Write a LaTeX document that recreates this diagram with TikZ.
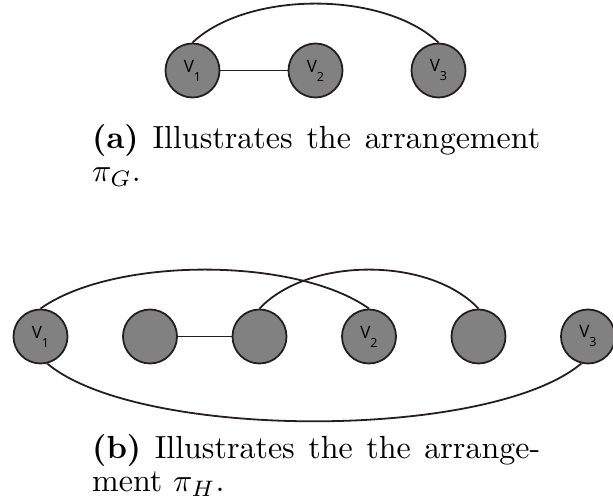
\documentclass[tikz,border=0pt]{standalone}
\usepackage{fontspec}
\newfontfamily\labfont{Open Sans}
\usepackage{graphicx}
\definecolor{nodegray}{RGB}{128,129,128}
\definecolor{ink}{RGB}{35,31,32}
\tikzset{
  vert/.style={circle, draw=ink, fill=nodegray, line width=1.8pt, minimum size=54pt, inner sep=0pt, font=\labfont\fontsize{17}{17}\selectfont},
  edge/.style={draw=ink, line width=1.8pt},
  capnode/.style={anchor=base west, inner sep=0pt}
}
\newcommand{\vlab}[1]{V\raisebox{-9pt}{\fontsize{12.5}{12.5}\selectfont #1}}
\begin{document}
\begin{tikzpicture}[x=1pt,y=1pt]
\useasboundingbox (0,0) rectangle (613,502);
% top graph
\node[vert] (t1) at (192.5,431.5) {\vlab{1}};
\node[vert] (t2) at (315.5,431.5) {\vlab{2}};
\node[vert] (t3) at (438.5,431.5) {\vlab{3}};
\draw[edge] (t1.east) -- (t2.west);
\draw[edge] (t1.north) .. controls +(55,52) and +(-55,52) .. (t3.north);
\node[capnode] (capa) at (92,353) {\scalebox{3.2}{\parbox[t]{140pt}{\fontsize{10}{10.3}\selectfont\textbf{(a)} Illustrates the arrangement\linebreak $\pi_G$.}}};
% bottom graph
\node[vert] (b1) at (40.5,165.5) {\vlab{1}};
\node[vert] (b2) at (150,165.5) {};
\node[vert] (b3) at (259.5,165.5) {};
\node[vert] (b4) at (369,165.5) {\vlab{2}};
\node[vert] (b5) at (478.5,165.5) {};
\node[vert] (b6) at (588,165.5) {\vlab{3}};
\draw[edge] (b2.east) -- (b3.west);
\draw[edge] (b1.north) .. controls +(73,52) and +(-73,52) .. (b4.north);
\draw[edge] (b3.north) .. controls +(49,52) and +(-49,52) .. (b5.north);
\draw[edge] (b1.-76) .. controls +(92,-77) and +(-92,-77) .. (b6.-104);
\node[capnode] (capb) at (92,43) {\scalebox{3.2}{\parbox[t]{140pt}{\fontsize{10}{10.3}\selectfont\textbf{(b)} Illustrates the the arrange-\linebreak ment $\pi_H$.}}};
\end{tikzpicture}
\end{document}
